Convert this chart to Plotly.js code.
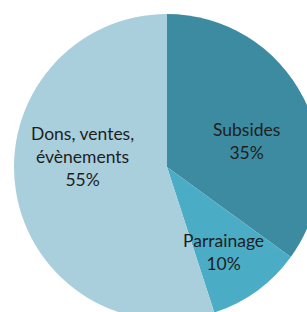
<!DOCTYPE html>
<html>
<head>
<meta charset="utf-8">
<script src="https://cdn.plot.ly/plotly-3.0.1.min.js"></script>
<style>
html,body{margin:0;padding:0;overflow:hidden;background:#fff;width:307px;height:312px;}
#chart{width:334px;height:334px;}
</style>
</head>
<body>
<div id="chart"></div>
<script>
var labels = ["Subsides", "Parrainage", "Dons, ventes,<br>évènements"];
var values = [35, 10, 55];
var colors = ["#3D8BA1", "#4BACC6", "#A9CEDC"];

// label placement (layout only): radial fraction and pixel nudges
var labelRadius = [0.55, 0.667, 0.562];
var labelShiftX = [5, -3, 0];
var labelShiftY = [-12, -2, 24];

var total = values.reduce(function (a, b) { return a + b; }, 0);
var cum = 0;
var annotations = values.map(function (v, i) {
  var mid = (cum + v / 2) / total * 2 * Math.PI;
  cum += v;
  var pct = Math.round(v / total * 100) + "%";
  return {
    xref: "paper", yref: "paper",
    x: 0.5 + 0.5 * labelRadius[i] * Math.sin(mid),
    y: 0.5 + 0.5 * labelRadius[i] * Math.cos(mid),
    xanchor: "center", yanchor: "middle",
    xshift: labelShiftX[i], yshift: labelShiftY[i],
    text: labels[i] + "<br>" + pct,
    showarrow: false,
    align: "center",
    font: {family: "Lato, sans-serif", size: 17.5, color: "#1e1e1e"}
  };
});

Plotly.newPlot("chart", [{
  type: "pie",
  labels: labels,
  values: values,
  sort: false,
  direction: "clockwise",
  rotation: 0,
  marker: {colors: colors, line: {width: 0}},
  textinfo: "none",
  hoverinfo: "none"
}], {
  width: 334, height: 334,
  margin: {l: 14, r: 14, t: 14, b: 14},
  showlegend: false,
  paper_bgcolor: "#fff",
  font: {family: "Lato, sans-serif"},
  annotations: annotations
}, {displayModeBar: false, staticPlot: true});
</script>
</body>
</html>
